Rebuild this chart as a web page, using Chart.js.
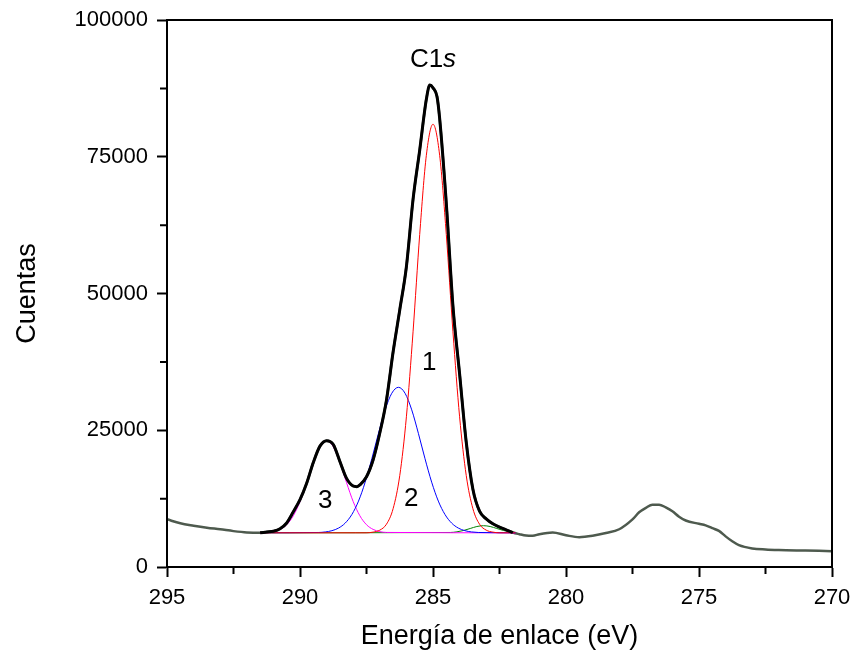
<!DOCTYPE html>
<html>
<head>
<meta charset="utf-8">
<script src="https://cdn.jsdelivr.net/npm/chart.js@4"></script>
<style>
  body { margin: 0; background: #fff; }
</style>
</head>
<body>
<canvas id="grafico" width="854" height="657"></canvas>
<script>
// espectro medido (eV, cuentas)
const energia = [295, 294.5, 294, 293.5, 293, 292.5, 292, 291.5, 291.25, 291, 290.75, 290.5, 290.25, 290, 289.75, 289.5, 289.25, 289, 288.75, 288.5, 288.25, 288, 287.86, 287.75, 287.5, 287.25, 287, 286.75, 286.5, 286.25, 286, 285.75, 285.5, 285.25, 285.12, 285, 284.85, 284.75, 284.5, 284.25, 284, 283.75, 283.5, 283.25, 283, 282.75, 282.5, 282.25, 282, 281.75, 281.5, 281.25, 281, 280.5, 280, 279.5, 279, 278.5, 278, 277.5, 277.25, 277, 276.75, 276.5, 276.25, 276, 275.75, 275.5, 275, 274.75, 274.5, 274.25, 274, 273.75, 273.5, 273, 272.5, 272, 271, 270];
const cuentas = [8720, 7990, 7550, 7180, 6890, 6560, 6320, 6250, 6400, 6550, 7000, 8050, 10100, 12300, 15300, 19100, 22100, 23100, 22400, 19300, 16200, 14800, 14680, 15000, 16500, 19600, 24500, 30500, 39300, 47000, 54900, 67200, 76200, 85500, 88100, 87600, 86000, 82000, 66500, 47700, 35300, 22800, 14200, 10200, 8800, 7900, 7300, 6800, 6300, 6000, 5750, 5700, 6000, 6300, 5800, 5450, 5700, 6200, 6900, 8700, 10000, 10800, 11400, 11400, 10900, 10200, 9200, 8500, 7900, 7600, 7100, 6600, 5600, 4700, 4000, 3400, 3200, 3100, 3000, 2900];

// componentes del ajuste
const pico1E = [291.5, 287.5, 287.25, 287, 286.75, 286.5, 286.25, 286, 285.75, 285.5, 285.25, 285, 284.75, 284.5, 284.25, 284, 283.75, 283.5, 283.25, 283, 282.75, 282.5, 281.9];
const pico1 = [6250, 6250, 6380, 6740, 7820, 10660, 16710, 27460, 43000, 60780, 75270, 80950, 75270, 60780, 43000, 27460, 16710, 10660, 7820, 6740, 6380, 6250, 6250];

const pico2E = [291.5, 289.3, 289.05, 288.8, 288.55, 288.3, 288.05, 287.8, 287.55, 287.3, 287.05, 286.8, 286.55, 286.3, 286.05, 285.8, 285.55, 285.3, 285.05, 284.8, 284.55, 284.3, 284.05, 283.8, 283.55, 283.3, 281.9];
const pico2 = [6250, 6310, 6410, 6640, 7120, 8030, 9600, 12050, 15510, 19790, 24440, 28730, 31760, 32850, 31760, 28730, 24440, 19790, 15510, 12050, 9600, 8030, 7120, 6640, 6410, 6310, 6250];

const pico3E = [291.5, 291.25, 291, 290.75, 290.5, 290.25, 290, 289.75, 289.5, 289.25, 289, 288.75, 288.5, 288.25, 288, 287.75, 287.5, 287.25, 287, 286.75, 281.9];
const pico3 = [6250, 6320, 6470, 6870, 7730, 9370, 11960, 15420, 19110, 22000, 23100, 22000, 19110, 15420, 11960, 9370, 7730, 6870, 6470, 6320, 6250];

const pico4E = [291.5, 284.35, 284.1, 283.85, 283.6, 283.35, 283.1, 282.85, 282.6, 282.35, 282.1, 281.9];
const pico4 = [6250, 6310, 6430, 6670, 7040, 7400, 7550, 7400, 7040, 6670, 6430, 6300];

const xTicks = [295, 290, 285, 280, 275, 270];
const yTicks = [0, 25000, 50000, 75000, 100000];

// etiquetas sobre el grafico (eV, cuentas)
const etiquetas = [
  { t: '1', x: 285.14, y: 37300 },
  { t: '2', x: 285.82, y: 12430 },
  { t: '3', x: 289.05, y: 12060 }
];

const puntos = (xs, ys) => xs.map((x, i) => ({ x: x, y: ys[i] }));
const envolvente = puntos(energia, cuentas).filter(p => p.x <= 291.5 && p.x >= 282);

const linea = (data, color, ancho) => ({
  data: data,
  borderColor: color,
  borderWidth: ancho,
  pointRadius: 0,
  fill: false,
  cubicInterpolationMode: 'monotone'
});

const FUENTE = 'Arial, "Liberation Sans", sans-serif';
const TAM = 26;

const marco = {
  id: 'marco',
  afterDraw(chart) {
    const c = chart.ctx;
    const a = chart.chartArea;
    const sx = chart.scales.x, sy = chart.scales.y;
    c.save();
    c.strokeStyle = '#000';
    c.lineWidth = 2;
    c.strokeRect(a.left, a.top, a.right - a.left, a.bottom - a.top);
    // marcas menores
    c.beginPath();
    for (let v = 272.5; v < 295; v += 5) {
      const px = sx.getPixelForValue(v);
      c.moveTo(px, a.bottom);
      c.lineTo(px, a.bottom + 7);
    }
    for (let v = 12500; v < 100000; v += 25000) {
      const py = sy.getPixelForValue(v);
      c.moveTo(a.left, py);
      c.lineTo(a.left - 7, py);
    }
    c.stroke();
    // textos
    c.fillStyle = '#000';
    c.textAlign = 'center';
    c.textBaseline = 'middle';
    c.font = TAM + 'px ' + FUENTE;
    etiquetas.forEach(e => {
      c.fillText(e.t, sx.getPixelForValue(e.x), sy.getPixelForValue(e.y));
    });
    const cx = sx.getPixelForValue(285.0);
    const cy = sy.getPixelForValue(92700);
    c.textAlign = 'left';
    const w1 = c.measureText('C1').width;
    c.font = 'italic ' + TAM + 'px ' + FUENTE;
    const w2 = c.measureText('s').width;
    const x0 = cx - (w1 + w2) / 2;
    c.font = TAM + 'px ' + FUENTE;
    c.fillText('C1', x0, cy);
    c.font = 'italic ' + TAM + 'px ' + FUENTE;
    c.fillText('s', x0 + w1, cy);
    c.restore();
  }
};

new Chart(document.getElementById('grafico'), {
  type: 'line',
  data: {
    datasets: [
      linea(envolvente, '#000000', 3),
      linea(puntos(pico1E, pico1), '#ff0000', 1),
      linea(puntos(pico2E, pico2), '#0000ff', 1),
      linea(puntos(pico3E, pico3), '#ff00ff', 1),
      linea(puntos(pico4E, pico4), '#008000', 1),
      linea(puntos(energia, cuentas), '#4e5a4e', 2.5)
    ]
  },
  options: {
    responsive: false,
    animation: false,
    layout: { padding: { top: 20, right: 22, left: 0, bottom: 0 } },
    plugins: { legend: { display: false }, tooltip: { enabled: false } },
    scales: {
      x: {
        type: 'linear',
        reverse: true,
        min: 270,
        max: 295,
        afterBuildTicks: s => { s.ticks = xTicks.map(v => ({ value: v })); },
        afterFit: s => { s.height = 90; s.paddingLeft = 0; s.paddingRight = 0; },
        ticks: { color: '#000', font: { size: 22, family: FUENTE }, padding: 8, maxRotation: 0, callback: v => String(v) },
        grid: { drawOnChartArea: false, tickLength: 10, tickWidth: 2, tickColor: '#000' },
        border: { color: '#000', width: 2 },
        title: { display: true, text: 'Energía de enlace (eV)', color: '#000', font: { size: 27, family: FUENTE }, padding: { top: 0, bottom: 4 } }
      },
      y: {
        min: 0,
        max: 100000,
        afterBuildTicks: s => { s.ticks = yTicks.map(v => ({ value: v })); },
        afterFit: s => { s.width = 167; s.paddingTop = 0; s.paddingBottom = 0; },
        ticks: { color: '#000', font: { size: 22, family: FUENTE }, padding: 9, callback: v => String(v) },
        grid: { drawOnChartArea: false, tickLength: 10, tickWidth: 2, tickColor: '#000' },
        border: { color: '#000', width: 2 },
        title: { display: true, text: 'Cuentas', color: '#000', font: { size: 27, family: FUENTE }, padding: { top: 11, bottom: 0 } }
      }
    }
  },
  plugins: [marco]
});
</script>
</body>
</html>
